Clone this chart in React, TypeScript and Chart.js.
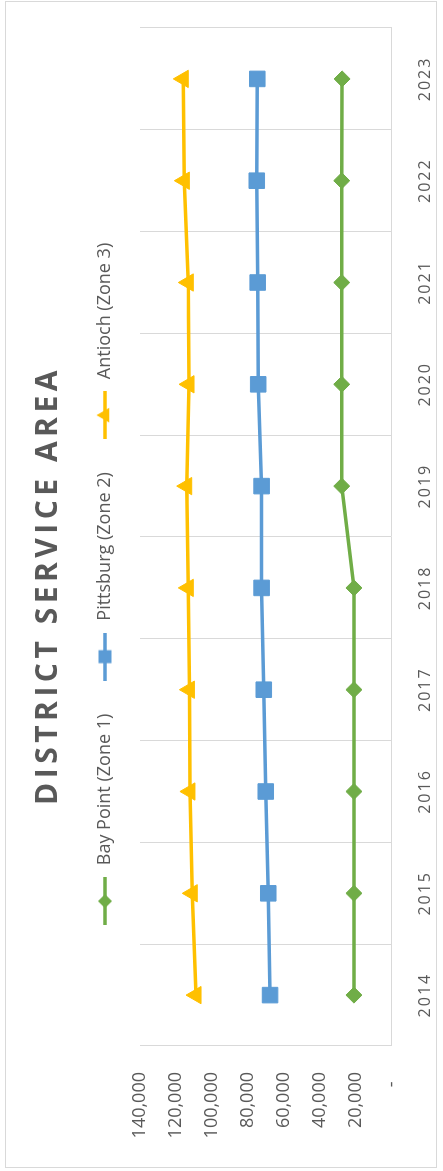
import React, { useEffect, useRef } from 'react';
import { Chart, registerables, layouts } from 'chart.js';

Chart.register(...registerables);

// ---------- data ----------
const years = ['2014', '2015', '2016', '2017', '2018', '2019', '2020', '2021', '2022', '2023'];
const bayPoint = [20900, 20900, 20900, 20900, 20900, 27700, 27700, 27700, 27700, 27500];
const pittsburg = [67600, 68600, 70000, 71100, 72300, 72300, 74200, 74500, 75000, 74700];
const antioch = [108800, 110900, 112200, 112500, 113100, 114000, 112700, 113100, 115300, 115900];
const seriesNames = ['Bay Point (Zone 1)', 'Pittsburg (Zone 2)', 'Antioch (Zone 3)'];
const seriesColors = ['#70AD47', '#5B9BD5', '#FFC000'];
const seriesMarkers = ['rectRot', 'rect', 'triangle'];
const markerRadius = [8, 11, 10];
const titleText = 'DISTRICT SERVICE AREA';
const valueMin = 0;
const valueMax = 140000;
const valueStep = 20000;
const zeroLabel = '-  ';

// ---------- layout (landscape frame, later rotated) ----------
const W = 1171;
const H = 443;
const TEXT = '#595959';
const GRID = '#D9D9D9';
const FONT = '"Open Sans", "Liberation Sans", sans-serif';

function makeLegendIcon(color: string, marker: string): HTMLCanvasElement {
  const c = document.createElement('canvas');
  c.width = 48;
  c.height = 24;
  const ctx = c.getContext('2d')!;
  const cy = 12;
  const cx = 24;
  ctx.strokeStyle = color;
  ctx.fillStyle = color;
  ctx.lineWidth = 3.5;
  ctx.beginPath();
  ctx.moveTo(0, cy);
  ctx.lineTo(48, cy);
  ctx.stroke();
  ctx.beginPath();
  if (marker === 'rectRot') {
    const r = 7;
    ctx.moveTo(cx, cy - r);
    ctx.lineTo(cx + r, cy);
    ctx.lineTo(cx, cy + r);
    ctx.lineTo(cx - r, cy);
    ctx.closePath();
  } else if (marker === 'rect') {
    const s = 6.5;
    ctx.rect(cx - s, cy - s, 2 * s, 2 * s);
  } else {
    const r = 8.5;
    const a = (2 * Math.PI) / 3;
    ctx.moveTo(cx, cy - r);
    ctx.lineTo(cx + Math.sin(a) * r, cy - Math.cos(a) * r);
    ctx.lineTo(cx + Math.sin(2 * a) * r, cy - Math.cos(2 * a) * r);
    ctx.closePath();
  }
  ctx.fill();
  return c;
}

const LEGEND_GAP = 16;
const gapPlugin = {
  id: 'legendGap',
  beforeInit(chart: any) {
    const box: any = {
      options: {},
      position: 'top',
      weight: 100,
      fullSize: true,
      left: 0,
      top: 0,
      right: 0,
      bottom: 0,
      width: 0,
      height: 0,
      isHorizontal: () => true,
      update(maxWidth: number) {
        box.width = maxWidth;
        box.height = LEGEND_GAP;
      },
      draw() {},
    };
    layouts.addBox(chart, box);
  },
};

const framePlugin = {
  id: 'frame',
  beforeDraw(chart: any) {
    const ctx = chart.ctx;
    ctx.save();
    ctx.fillStyle = '#FFFFFF';
    ctx.fillRect(0, 0, chart.width, chart.height);
    ctx.strokeStyle = GRID;
    ctx.lineWidth = 1;
    ctx.strokeRect(3.5, 5.5, 1166, 431);
    ctx.restore();
  },
};

const spacingPlugin = {
  id: 'spacing',
  afterUpdate(chart: any) {
    const tb = chart.titleBlock;
    if (tb && !tb.__ls) {
      const d = tb.draw.bind(tb);
      tb.draw = (...a: any[]) => {
        chart.ctx.save();
        chart.ctx.letterSpacing = '4.5px';
        d(...a);
        chart.ctx.restore();
      };
      tb.__ls = true;
    }
    const xs = chart.scales.x;
    if (xs && !xs.__ls) {
      const d = xs.drawLabels.bind(xs);
      xs.drawLabels = (...a: any[]) => {
        chart.ctx.save();
        chart.ctx.letterSpacing = '2px';
        d(...a);
        chart.ctx.restore();
      };
      xs.__ls = true;
    }
  },
};

export default function App() {
  const ref = useRef<HTMLCanvasElement | null>(null);

  useEffect(() => {
    const canvas = ref.current!;
    const icons = seriesColors.map((c, i) => makeLegendIcon(c, seriesMarkers[i]));
    const values = [bayPoint, pittsburg, antioch];
    const chart = new Chart(canvas, {
      type: 'line',
      data: {
        labels: years,
        datasets: values.map((v, i) => ({
          label: seriesNames[i],
          data: v,
          borderColor: seriesColors[i],
          backgroundColor: seriesColors[i],
          borderWidth: 3.5,
          tension: 0,
          pointStyle: seriesMarkers[i] as any,
          pointRadius: markerRadius[i],
          pointBorderWidth: 1,
          pointBorderColor: seriesColors[i],
          pointBackgroundColor: seriesColors[i],
          fill: false,
        })),
      },
      options: {
        responsive: false,
        animation: false,
        devicePixelRatio: 1,
        layout: { padding: { left: 28, right: 28, top: 0, bottom: 0 } },
        plugins: {
          title: {
            display: true,
            text: titleText,
            color: TEXT,
            font: { family: FONT, size: 30, weight: 'bold' },
            padding: { top: 30, bottom: 0 },
          },
          legend: {
            display: true,
            position: 'top',
            labels: {
              usePointStyle: true,
              pointStyleWidth: 54,
              padding: 30,
              color: TEXT,
              font: { family: FONT, size: 18 },
              generateLabels: (c: any) => {
                const items = (Chart.defaults.plugins.legend.labels as any).generateLabels(c);
                return items.map((it: any, i: number) => ({ ...it, pointStyle: icons[i] }));
              },
            },
          },
          tooltip: { enabled: false },
        },
        scales: {
          x: {
            type: 'category',
            offset: true,
            grid: { display: true, color: GRID, lineWidth: 1, offset: true, drawTicks: false },
            border: { display: true, color: GRID, width: 1 },
            ticks: { color: TEXT, font: { family: FONT, size: 16 }, padding: 24, maxRotation: 0, autoSkip: false },
            afterFit: (s: any) => {
              s.height = H - 391.5;
            },
          },
          y: {
            type: 'linear',
            min: valueMin,
            max: valueMax,
            grid: { display: false, drawTicks: false },
            border: { display: false },
            ticks: {
              stepSize: valueStep,
              color: TEXT,
              font: { family: FONT, size: 18 },
              padding: 26,
              callback: (v: any) => (Number(v) === 0 ? zeroLabel : Number(v).toLocaleString('en-US')),
            },
            afterFit: (s: any) => {
              s.width = 97;
            },
          },
        },
      },
      plugins: [gapPlugin, framePlugin, spacingPlugin],
    });
    return () => chart.destroy();
  }, []);

  return (
    <div
      style={{
        position: 'fixed',
        left: 0,
        top: 0,
        width: W,
        height: H,
        background: '#FFFFFF',
        transformOrigin: '0 0',
        transform: `translate(0px, ${W}px) rotate(-90deg)`,
      }}
    >
      <canvas ref={ref} width={W} height={H} style={{ display: 'block', width: W, height: H }} />
    </div>
  );
}
